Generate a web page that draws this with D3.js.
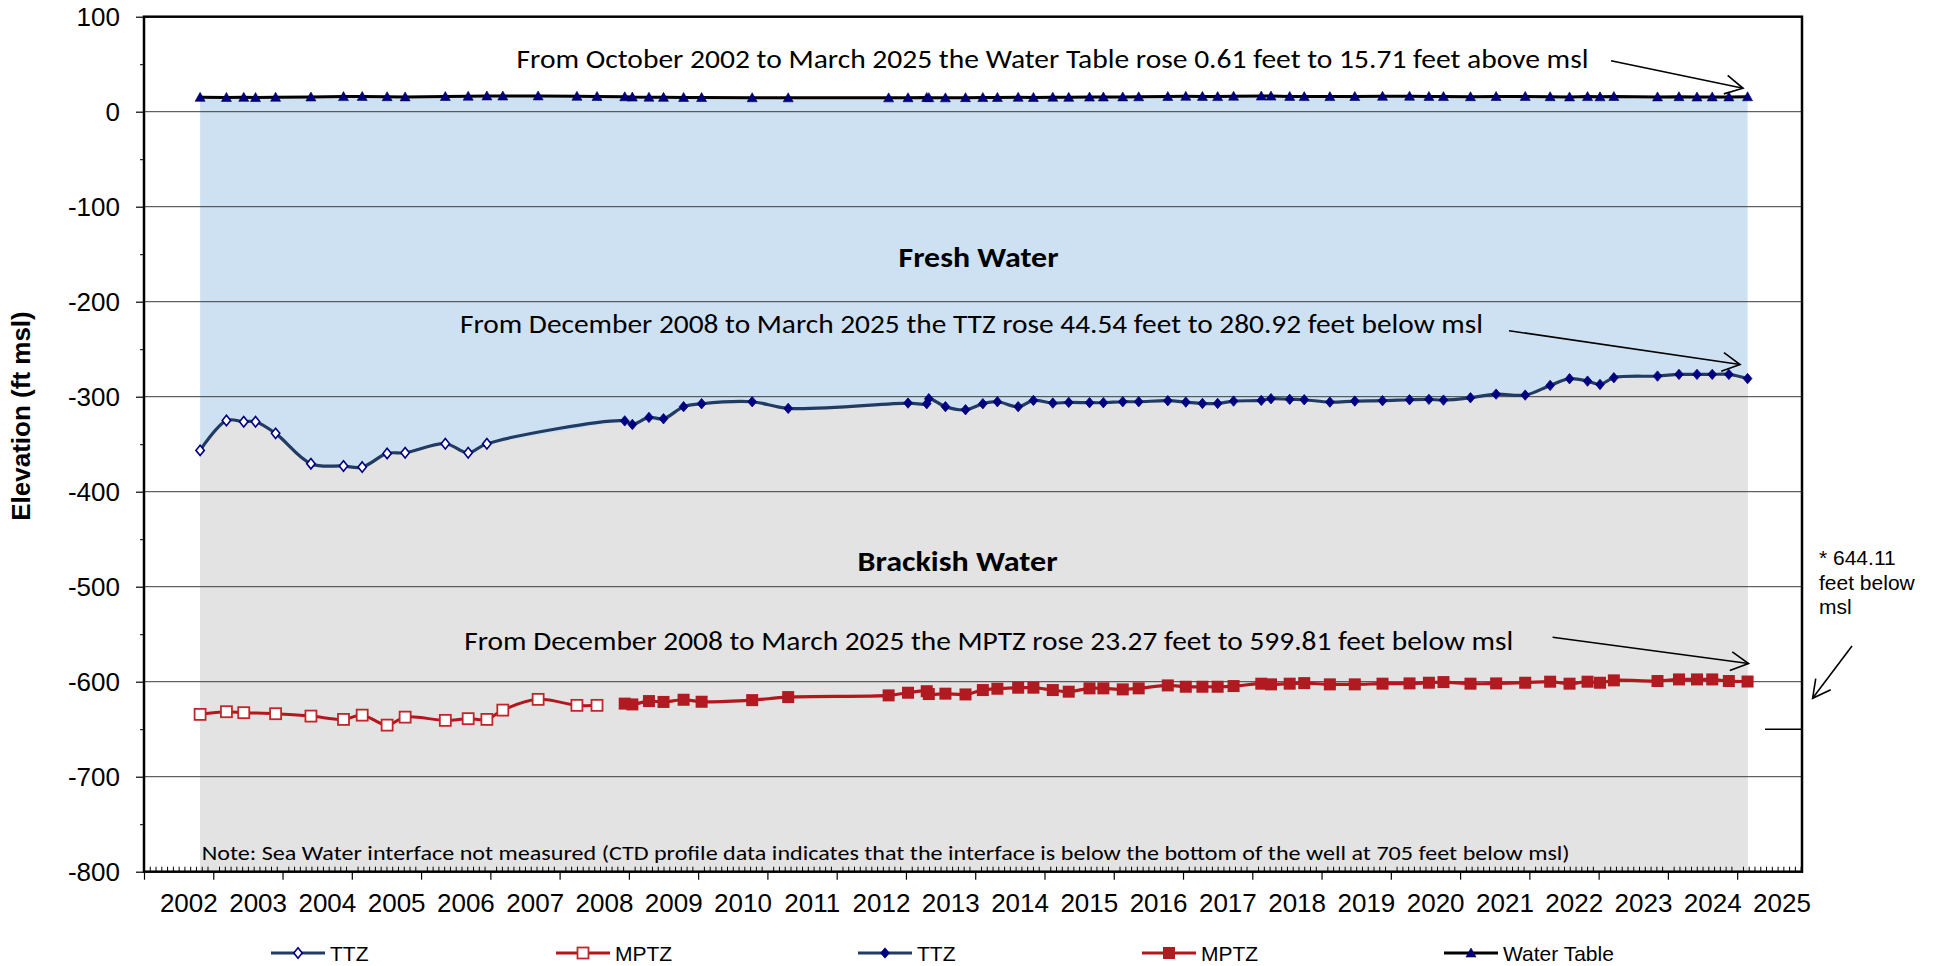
<!DOCTYPE html>
<html><head><meta charset="utf-8">
<script src="https://cdn.jsdelivr.net/npm/d3@7"></script>
<style>body{margin:0;background:#fff} svg{display:block}</style>
</head><body>
<svg id="c" width="1942" height="966"></svg>
<script>
// ---------- DATA (decimal years, ft msl) ----------
const earlyDates = [2002.81, 2003.19, 2003.44, 2003.61, 2003.90, 2004.41, 2004.88, 2005.15, 2005.51, 2005.77, 2006.35, 2006.68, 2006.95, 2007.18, 2007.69, 2008.25, 2008.54];
const lateDates = [2008.94, 2009.05, 2009.29, 2009.50, 2009.79, 2010.05, 2010.78, 2011.30, 2012.75, 2013.03, 2013.30, 2013.33, 2013.57, 2013.86, 2014.11, 2014.32, 2014.62, 2014.84, 2015.12, 2015.35, 2015.65, 2015.85, 2016.13, 2016.36, 2016.78, 2017.04, 2017.28, 2017.50, 2017.73, 2018.13, 2018.27, 2018.54, 2018.75, 2019.12, 2019.48, 2019.88, 2020.27, 2020.55, 2020.76, 2021.15, 2021.52, 2021.94, 2022.30, 2022.58, 2022.84, 2023.02, 2023.22, 2023.85, 2024.16, 2024.42, 2024.64, 2024.88, 2025.15];

// TTZ (open diamonds) – first 13 early dates
const ttzOpen = [-356.5, -325.0, -326.3, -326.3, -338.6, -370.5, -373.0, -374.1, -359.7, -359.0, -349.5, -359.0, -349.5];
// MPTZ (open squares)
const mptzOpenDates = [2002.81, 2003.19, 2003.44, 2003.90, 2004.41, 2004.88, 2005.15, 2005.51, 2005.77, 2006.35, 2006.68, 2006.95, 2007.18, 2007.69, 2008.25, 2008.54];
const mptzOpen = [-634.4, -631.6, -632.6, -633.7, -636.2, -639.7, -635.2, -645.7, -637.3, -640.7, -638.9, -639.7, -629.9, -618.6, -624.9, -624.9];
// TTZ (filled diamonds) – aligned to lateDates (null = not measured)
const ttzFilled = [-325.46, -329.2, -321.8, -323.2, -310.5, -307.4, -305.3, -312.3, null, -306.7, -307.4, -302.1, -310.5, -313.7, -307.4, -305.3, -310.5, -303.9, -306.7, -306.0, -306.3, -306.3, -305.3, -305.3, -304.2, -305.7, -307.1, -307.1, -304.6, -303.9, -302.1, -302.8, -303.2, -305.7, -304.6, -304.2, -303.2, -302.8, -303.6, -301.1, -297.3, -298.3, -288.1, -281.1, -283.6, -287.1, -280.0, -278.3, -276.5, -276.5, -276.5, -276.5, -280.92];
// MPTZ (filled squares) – aligned to lateDates
const mptzFilled = [-623.08, -623.9, -620.4, -621.3, -619.0, -621.1, -619.4, -616.2, -614.4, -611.6, -610.0, -613.0, -612.6, -613.4, -608.8, -607.4, -606.3, -606.3, -608.8, -610.5, -607.0, -607.0, -608.1, -607.0, -603.9, -605.3, -605.3, -605.3, -604.6, -602.1, -602.8, -602.1, -601.5, -602.8, -602.8, -602.1, -601.8, -601.1, -600.4, -602.1, -601.8, -601.1, -600.0, -602.1, -600.0, -601.1, -598.6, -599.3, -597.6, -597.6, -597.6, -599.3, -599.81];
// Water Table – earlyDates then lateDates
const waterTableEarly = [15.10, 15.0, 15.1, 14.9, 15.2, 15.5, 15.9, 16.1, 15.8, 15.6, 16.0, 16.3, 16.6, 16.5, 16.6, 16.2, 16.0];
const waterTableLate = [15.7, 15.4, 15.3, 15.1, 15.0, 14.9, 14.7, 14.6, 14.6, 14.7, 14.9, 14.8, 14.6, 14.8, 14.9, 15.0, 15.2, 15.0, 15.3, 15.1, 15.4, 15.5, 15.6, 15.7, 16.0, 16.2, 16.1, 15.9, 16.3, 16.5, 16.4, 16.1, 15.9, 15.9, 16.0, 16.2, 16.3, 16.1, 15.9, 15.8, 16.0, 16.1, 15.8, 15.6, 15.9, 15.7, 16.0, 15.6, 15.8, 15.5, 15.6, 15.6, 15.71];

const yTickValues = [100, 0, -100, -200, -300, -400, -500, -600, -700, -800];
const yearLabels = d3.range(2002, 2026);
const interfaceMark = -650;   // short mark on right side
const legendLabels = ["TTZ", "MPTZ", "TTZ", "MPTZ", "Water Table"];

// ---------- SETUP ----------
const svg = d3.select("#c");
const L = 144, R = 1802, T = 16.7, B = 871.7;
const x = d3.scaleLinear().domain([2002, 2025.936]).range([L, R]);
const y = d3.scaleLinear().domain([-800, 100]).range([B, T]);

const C = {
  blue: "#CEE1F2", gray: "#E3E3E3", grid: "#3c3c3c",
  ttzLine: "#213B62", navy: "#000080",
  mptzLine: "#B5161D", mptzMark: "#B01A20", mptzOpen: "#C0262C"
};
const axisFont = "'Liberation Sans', Arial, sans-serif";
const annFont = "Carlito, Lato, 'Open Sans', sans-serif";

const wtPts = earlyDates.map((t, i) => ({t, v: waterTableEarly[i]}))
  .concat(lateDates.map((t, i) => ({t, v: waterTableLate[i]})));
const ttzPts = ttzOpen.map((v, i) => ({t: earlyDates[i], v, open: true}))
  .concat(lateDates.map((t, i) => ({t, v: ttzFilled[i], open: false})).filter(d => d.v !== null));
const mptzOpenPts = mptzOpenDates.map((t, i) => ({t, v: mptzOpen[i]}));
const mptzFilledPts = lateDates.map((t, i) => ({t, v: mptzFilled[i]}));

// ---------- AREAS ----------
svg.append("path").datum(wtPts)
  .attr("d", d3.area().x(d => x(d.t)).y0(y(-800)).y1(d => y(d.v)))
  .attr("fill", C.blue);
svg.append("path").datum(ttzPts)
  .attr("d", d3.area().x(d => x(d.t)).y0(y(-800)).y1(d => y(d.v)))
  .attr("fill", C.gray);

// ---------- GRIDLINES ----------
svg.append("g").selectAll("line").data(yTickValues.filter(v => v < 100 && v > -800)).join("line")
  .attr("x1", L).attr("x2", R).attr("y1", d => y(d)).attr("y2", d => y(d))
  .attr("stroke", C.grid).attr("stroke-width", 1);

// ---------- AXES ----------
const yAxis = svg.append("g").attr("transform", `translate(${L},0)`)
  .call(d3.axisLeft(y).tickValues(yTickValues).tickSize(8).tickPadding(16).tickFormat(d => String(d)));
yAxis.select(".domain").remove();
yAxis.selectAll("text").attr("font-family", axisFont).attr("font-size", 26).attr("fill", "#000");
yAxis.selectAll("line").attr("stroke", "#000").attr("stroke-width", 1.2);

const yMinor = svg.append("g").attr("transform", `translate(${L},0)`)
  .call(d3.axisLeft(y).tickValues(d3.range(-750, 100, 100)).tickSize(4).tickFormat(""));
yMinor.select(".domain").remove();
yMinor.selectAll("line").attr("stroke", "#000").attr("stroke-width", 1);

const xMajor = svg.append("g").attr("transform", `translate(0,${B})`)
  .call(d3.axisBottom(x).tickValues(yearLabels).tickSize(8).tickFormat(""));
xMajor.select(".domain").remove();
xMajor.selectAll("line").attr("stroke", "#000").attr("stroke-width", 1.2);

const months = d3.range(0, 24 * 12).map(i => 2002 + i / 12).filter(t => t < 2025.93 && Math.abs(t - Math.round(t)) > 1e-6);
const xMinor = svg.append("g").attr("transform", `translate(0,${B})`)
  .call(d3.axisBottom(x).tickValues(months).tickSize(-5).tickFormat(""));
xMinor.select(".domain").remove();
xMinor.selectAll("line").attr("stroke", "#000").attr("stroke-width", 1);

const xLab = svg.append("g").attr("transform", `translate(0,${B})`)
  .call(d3.axisBottom(x).tickValues(yearLabels.map(d => d + 0.64)).tickSize(0).tickPadding(22).tickFormat(d => String(Math.floor(d))));
xLab.select(".domain").remove();
xLab.selectAll("text").attr("font-family", axisFont).attr("font-size", 26).attr("fill", "#000");

// plot border
svg.append("rect").attr("x", L).attr("y", T).attr("width", R - L).attr("height", B - T)
  .attr("fill", "none").attr("stroke", "#000").attr("stroke-width", 2.5);

// y title
svg.append("text").attr("transform", `translate(30,416) rotate(-90)`)
  .attr("text-anchor", "middle").attr("font-family", axisFont).attr("font-weight", "bold")
  .attr("font-size", 26).text("Elevation (ft msl)");

// ---------- LINES ----------
const smooth = d3.line().x(d => x(d.t)).y(d => y(d.v)).curve(d3.curveCatmullRom.alpha(0.5));
svg.append("path").datum(wtPts).attr("d", d3.line().x(d => x(d.t)).y(d => y(d.v)))
  .attr("fill", "none").attr("stroke", "#000").attr("stroke-width", 3);
svg.append("path").datum(ttzPts).attr("d", smooth)
  .attr("fill", "none").attr("stroke", C.ttzLine).attr("stroke-width", 3.2);
svg.append("path").datum(mptzOpenPts).attr("d", smooth)
  .attr("fill", "none").attr("stroke", C.mptzLine).attr("stroke-width", 3);
svg.append("path").datum(mptzFilledPts).attr("d", smooth)
  .attr("fill", "none").attr("stroke", C.mptzLine).attr("stroke-width", 3.2);

// ---------- MARKERS ----------
const diamond = "M0,-5.2L4.2,0L0,5.2L-4.2,0Z";
const triangle = "M0,-5L5,4L-5,4Z";
function drawMarker(g, kind) {
  if (kind === "ttzOpen") g.append("path").attr("d", diamond).attr("fill", "#fff").attr("stroke", C.navy).attr("stroke-width", 1.6);
  if (kind === "ttzFilled") g.append("path").attr("d", "M0,-5.2L4.4,0L0,5.2L-4.4,0Z").attr("fill", C.navy).attr("stroke", C.navy).attr("stroke-width", 0.8);
  if (kind === "mptzOpen") g.append("rect").attr("x", -5.5).attr("y", -5.5).attr("width", 11).attr("height", 11).attr("fill", "#fff").attr("stroke", C.mptzOpen).attr("stroke-width", 1.8);
  if (kind === "mptzFilled") g.append("rect").attr("x", -6).attr("y", -6).attr("width", 12).attr("height", 12).attr("fill", C.mptzMark);
  if (kind === "wt") g.append("path").attr("d", triangle).attr("fill", C.navy).attr("stroke", "#00004a").attr("stroke-width", 0.6);
}
function markers(pts, kindFn) {
  pts.forEach(d => {
    const g = svg.append("g").attr("transform", `translate(${x(d.t)},${y(d.v)})`);
    drawMarker(g, kindFn(d));
  });
}
markers(wtPts, () => "wt");
markers(ttzPts, d => d.open ? "ttzOpen" : "ttzFilled");
markers(mptzOpenPts, () => "mptzOpen");
markers(mptzFilledPts, () => "mptzFilled");

// ---------- ANNOTATIONS ----------
function ann(str, x0, base, size, width, opts = {}) {
  svg.append("text").attr("x", x0).attr("y", base)
    .attr("font-family", annFont).attr("font-size", size)
    .attr("font-weight", opts.bold ? "bold" : "normal")
    .attr("text-anchor", opts.anchor || "start")
    .attr("textLength", width).attr("lengthAdjust", "spacingAndGlyphs")
    .attr("fill", "#000").text(str);
}
function arrow(x1, y1, x2, y2) {
  const g = svg.append("g").attr("stroke", "#000").attr("stroke-width", 1.6).attr("fill", "none");
  g.append("line").attr("x1", x1).attr("y1", y1).attr("x2", x2).attr("y2", y2);
  const a = Math.atan2(y2 - y1, x2 - x1), len = 20, sp = 28 * Math.PI / 180;
  g.append("path").attr("d",
    `M${x2 - len * Math.cos(a - sp)},${y2 - len * Math.sin(a - sp)}L${x2},${y2}L${x2 - len * Math.cos(a + sp)},${y2 - len * Math.sin(a + sp)}`);
}
const last = lateDates.length - 1;

ann("From October 2002 to March 2025 the Water Table rose 0.61 feet to 15.71 feet above msl", 516.5, 68.3, 26.5, 1072);
arrow(1611, 60.7, x(lateDates[last]) - 4.5, y(waterTableLate[last]) - 8.5);

ann("Fresh Water", 978.5, 267, 27.5, 160, {bold: true, anchor: "middle"});

ann("From December 2008 to March 2025 the TTZ rose 44.54 feet to 280.92 feet below msl", 460, 333.3, 26.5, 1023);
arrow(1509, 330.7, x(lateDates[last]) - 7.5, y(ttzFilled[last]) - 14);

ann("Brackish Water", 957.6, 570.7, 28, 200, {bold: true, anchor: "middle"});

ann("From December 2008 to March 2025 the MPTZ rose 23.27 feet to 599.81 feet below msl", 464.3, 650, 26.5, 1049);
arrow(1552.6, 637.3, x(lateDates[last]) + 1, y(mptzFilled[last]) - 18);

ann("Note: Sea Water interface not measured (CTD profile data indicates that the interface is below the bottom of the well at 705 feet below msl)", 201.7, 860, 20.5, 1368);

// right-side mark & note
svg.append("line").attr("x1", 1765).attr("x2", R).attr("y1", y(interfaceMark)).attr("y2", y(interfaceMark))
  .attr("stroke", "#000").attr("stroke-width", 1.6);
arrow(1852, 646, 1812.6, 698.3);
["* 644.11", "feet below", "msl"].forEach((s, i) => {
  svg.append("text").attr("x", 1819).attr("y", 565 + i * 24.5)
    .attr("font-family", axisFont).attr("font-size", 21).attr("fill", "#000").text(s);
});

// ---------- LEGEND ----------
const legendX = [271, 556, 858, 1142, 1444];
const legendKinds = ["ttzOpen", "mptzOpen", "ttzFilled", "mptzFilled", "wt"];
const legendColors = [C.ttzLine, C.mptzLine, C.ttzLine, C.mptzLine, "#000"];
const legendY = 953;
legendLabels.forEach((lab, i) => {
  const g = svg.append("g").attr("transform", `translate(${legendX[i]},${legendY})`);
  g.append("line").attr("x1", 0).attr("x2", 54).attr("stroke", legendColors[i]).attr("stroke-width", 3);
  const mg = g.append("g").attr("transform", "translate(27,0)");
  drawMarker(mg, legendKinds[i]);
  g.append("text").attr("x", 59).attr("y", 7.5).attr("font-family", axisFont).attr("font-size", 21)
    .attr("fill", "#000").text(lab);
});
</script>
</body></html>
